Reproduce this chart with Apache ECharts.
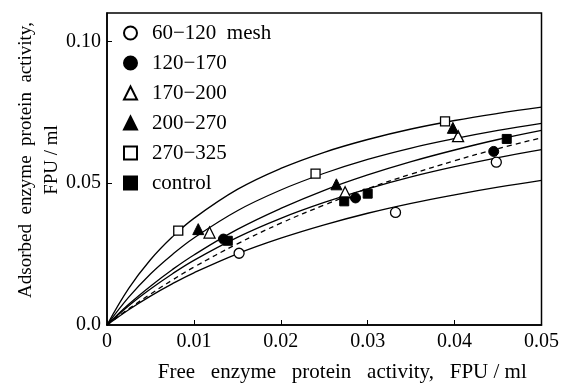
<!DOCTYPE html>
<html>
<head>
<meta charset="utf-8">
<script src="https://cdn.jsdelivr.net/npm/echarts@6/dist/echarts.min.js"></script>
<style>
html,body{margin:0;padding:0;background:#fff;}
#chart{width:562px;height:389px;}
</style>
</head>
<body>
<div id="chart"></div>
<script>
// ---- data ----
var xTickLabels = ['0', '0.01', '0.02', '0.03', '0.04', '0.05'];
var yTickLabels = ['0.0', '0.05', '0.10'];

var legendNames = ['60\u2212120  mesh', '120\u2212170', '170\u2212200', '200\u2212270', '270\u2212325', 'control'];

var mesh60_120  = [[0.0152, 0.0253], [0.0332, 0.0397], [0.0448, 0.0574]];
var mesh120_170 = [[0.0134, 0.0303], [0.0286, 0.0448], [0.0445, 0.0612]];
var mesh170_200 = [[0.0118, 0.0326], [0.0274, 0.0468], [0.0404, 0.0666]];
var mesh200_270 = [[0.0105, 0.0338], [0.0264, 0.0496], [0.0398, 0.0695]];
var mesh270_325 = [[0.0082, 0.0333], [0.0240, 0.0534], [0.0389, 0.0718]];
var controlPts  = [[0.0139, 0.0297], [0.0273, 0.0436], [0.0300, 0.0463], [0.0460, 0.0656]];

// fitted curves, sampled along x
var curveX      = [0, 0.0025, 0.005, 0.0075, 0.01, 0.015, 0.02, 0.025, 0.03, 0.035, 0.04, 0.045, 0.05];
var curveTop    = [0, 0.0129, 0.0230, 0.0310, 0.0376, 0.0478, 0.0552, 0.0609, 0.0654, 0.0691, 0.0721, 0.0746, 0.0768];
var curve2      = [0, 0.0098, 0.0180, 0.0248, 0.0307, 0.0403, 0.0476, 0.0535, 0.0584, 0.0624, 0.0657, 0.0686, 0.0711];
var curve3      = [0, 0.0073, 0.0137, 0.0195, 0.0247, 0.0337, 0.0411, 0.0475, 0.0529, 0.0576, 0.0617, 0.0654, 0.0686];
var curveCtrl   = [0, 0.0057, 0.0109, 0.0158, 0.0204, 0.0286, 0.0359, 0.0423, 0.0481, 0.0532, 0.0579, 0.0622, 0.0660];
var curve4      = [0, 0.0068, 0.0127, 0.0180, 0.0228, 0.0309, 0.0376, 0.0432, 0.0480, 0.0522, 0.0558, 0.0590, 0.0618];
var curveBottom = [0, 0.0054, 0.0102, 0.0145, 0.0184, 0.0251, 0.0306, 0.0353, 0.0394, 0.0429, 0.0459, 0.0486, 0.0510];

// ---- build ----
function pairs(ys) { return curveX.map(function (x, i) { return [x, ys[i]]; }); }

var FONT = "'Liberation Serif', 'DejaVu Serif', serif";
var INK = '#000';

function scatter(name, data, symbol, filled, size) {
  return {
    type: 'scatter', name: name, data: data, symbol: symbol, symbolSize: size,
    itemStyle: filled ? { color: INK, borderColor: INK, borderWidth: 1, opacity: 1 }
                      : { color: '#fff', borderColor: INK, borderWidth: 1.3, opacity: 1 },
    z: 5
  };
}
function curve(ys, dashed) {
  return {
    type: 'line', data: pairs(ys), smooth: 0.4, symbol: 'none', silent: true,
    lineStyle: { color: INK, width: 1.3, type: dashed ? [5, 4] : 'solid' },
    z: 3
  };
}

var chart = echarts.init(document.getElementById('chart'), null, { renderer: 'canvas' });
chart.setOption({
  animation: false,
  backgroundColor: '#fff',
  textStyle: { fontFamily: FONT, color: INK },
  grid: { left: 107, right: 16, top: 13, bottom: 64, show: true, borderColor: INK, borderWidth: 1.5 },
  legend: {
    orient: 'vertical', left: 118, top: 17, itemGap: 8, itemWidth: 13, itemHeight: 13,
    data: legendNames,
    textStyle: { fontFamily: FONT, fontSize: 21, color: INK, lineHeight: 22, padding: [0, 0, 0, 10] }
  },
  xAxis: {
    type: 'value', min: 0, max: 0.05, interval: 0.01,
    name: 'Free   enzyme   protein   activity,   FPU / ml',
    nameLocation: 'middle', nameGap: 37, nameMoveOverlap: false,
    nameTextStyle: { fontFamily: FONT, fontSize: 21, color: INK, padding: [0, 0, 0, 36] },
    axisLine: { lineStyle: { color: INK, width: 1.5 } },
    axisTick: { inside: true, length: 5, lineStyle: { color: INK } },
    splitLine: { show: false },
    axisLabel: {
      fontFamily: FONT, fontSize: 20, color: INK, margin: 7,
      formatter: function (v) { var i = Math.round(v / 0.01); return xTickLabels[i] || ''; }
    }
  },
  yAxis: {
    type: 'value', min: 0, max: 0.11, interval: 0.05,
    name: 'Adsorbed  enzyme  protein  activity,\nFPU / ml',
    nameLocation: 'middle', nameRotate: 90, nameGap: 42, nameMoveOverlap: false,
    nameTextStyle: { fontFamily: FONT, fontSize: 19, color: INK, lineHeight: 26, padding: [0, 0, 0, 18] },
    axisLine: { lineStyle: { color: INK, width: 1.5 } },
    axisTick: { inside: true, length: 5, lineStyle: { color: INK }, customValues: [0.05, 0.1] },
    splitLine: { show: false },
    axisLabel: {
      fontFamily: FONT, fontSize: 20, color: INK, margin: 6,
      customValues: [0, 0.05, 0.1],
      formatter: function (v) {
        var i = Math.round(v / 0.05);
        if (Math.abs(v - i * 0.05) > 1e-9) return '';
        return yTickLabels[i] || '';
      }
    }
  },
  series: [
    curve(curveTop, false), curve(curve2, false), curve(curve3, false),
    curve(curveCtrl, true), curve(curve4, false), curve(curveBottom, false),
    scatter(legendNames[0], mesh60_120, 'circle', false, 10),
    scatter(legendNames[1], mesh120_170, 'circle', true, 10),
    scatter(legendNames[2], mesh170_200, 'triangle', false, 11),
    scatter(legendNames[3], mesh200_270, 'triangle', true, 11),
    scatter(legendNames[4], mesh270_325, 'rect', false, 9),
    scatter(legendNames[5], controlPts, 'rect', true, 9)
  ]
});
</script>
</body>
</html>
